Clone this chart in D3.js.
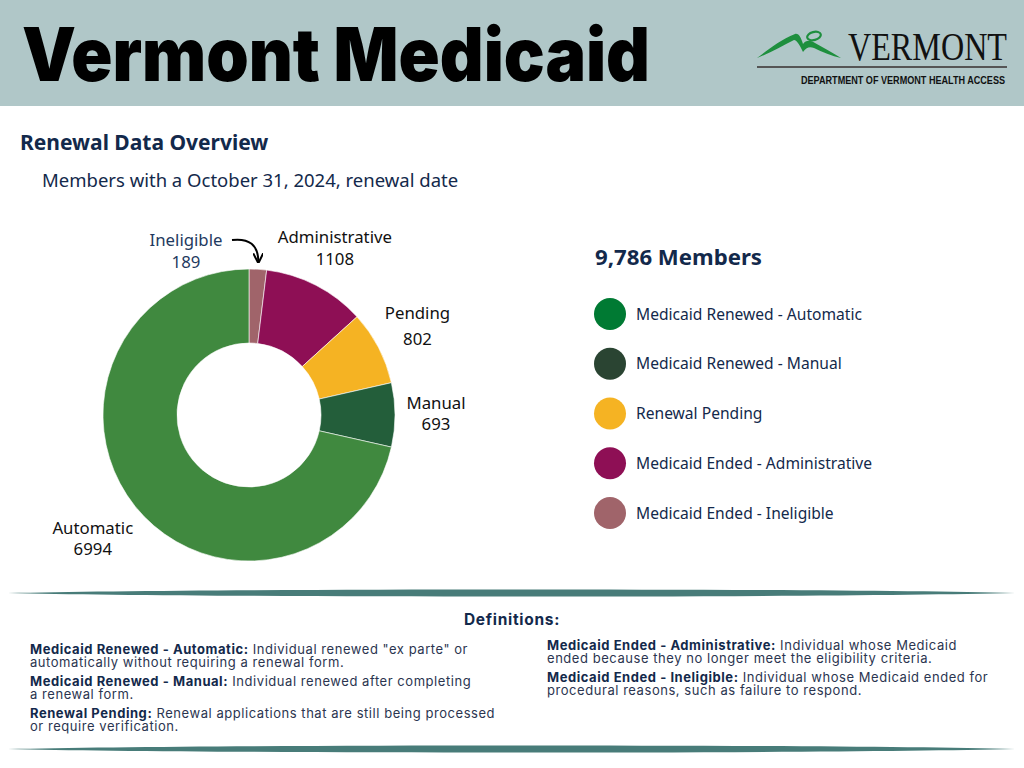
<!DOCTYPE html>
<html>
<head>
<meta charset="utf-8">
<script src="https://cdn.jsdelivr.net/npm/d3@7"></script>
<style>
html,body{margin:0;padding:0;background:#fff;}
svg{display:block;}
</style>
</head>
<body>
<svg id="chart" width="1024" height="768"></svg>
<script>
// ---------- DATA ----------
const categories = ["Medicaid Renewed - Automatic","Medicaid Renewed - Manual","Renewal Pending","Medicaid Ended - Administrative","Medicaid Ended - Ineligible"];
const shortLabels = ["Automatic","Manual","Pending","Administrative","Ineligible"];
const values = [6994, 693, 802, 1108, 189];
const pieOrder = ["Ineligible","Administrative","Pending","Manual","Automatic"];
const donutColors = ["#40893f","#235e3a","#f5b323","#8e0f55","#a0646a"];
const legendColors = ["#007a33","#2a4432","#f5b323","#8e0f55","#a0646a"];
const totalLabel = "9,786 Members";
const titleText = "Vermont Medicaid";
const subtitle1 = "Renewal Data Overview";
const subtitle2 = "Members with a October 31, 2024, renewal date";
const defsLeft = [
  ["Medicaid Renewed - Automatic:", " Individual renewed \"ex parte\" or", "automatically without requiring a renewal form."],
  ["Medicaid Renewed - Manual:", " Individual renewed after completing", "a renewal form."],
  ["Renewal Pending:", " Renewal applications that are still being processed", "or require verification."]
];
const defsRight = [
  ["Medicaid Ended - Administrative:", " Individual whose Medicaid", "ended because they no longer meet the eligibility criteria."],
  ["Medicaid Ended - Ineligible:", " Individual whose Medicaid ended for", "procedural reasons, such as failure to respond."]
];

// ---------- DRAW ----------
const svg = d3.select("#chart");
const navy = "#13294b";

// header band
svg.append("rect").attr("x",0).attr("y",0).attr("width",1024).attr("height",106).attr("fill","#b0c7c8");
svg.append("text").text(titleText)
  .attr("x",22).attr("y",81)
  .attr("font-family","Inter, 'Open Sans', sans-serif").attr("font-weight",900)
  .attr("font-size",74).attr("fill","#000")
  .attr("textLength",628).attr("lengthAdjust","spacingAndGlyphs");

// logo
const logo = svg.append("g");
logo.append("path")
  .attr("d","M757,58 C768,50 780,40 795,34 C799,33 801,38 803,44 C806,40 810,40 815,43 C824,48 833,53 841,58 C832,56 822,52 814,48 C809,46 806,48 803,52 C800,46 797,40 794,40 C782,46 770,53 757,58 Z")
  .attr("fill","#1e8f3e");
logo.append("ellipse").attr("cx",814).attr("cy",36).attr("rx",7).attr("ry",4)
  .attr("fill","none").attr("stroke","#1e8f3e").attr("stroke-width",2.2).attr("transform","rotate(-15,814,36)");
logo.append("text").text("VERMONT").attr("x",848).attr("y",60)
  .attr("font-family","'Liberation Serif', 'DejaVu Serif', serif").attr("font-size",40)
  .attr("fill","#111").attr("textLength",159).attr("lengthAdjust","spacingAndGlyphs");
logo.append("rect").attr("x",757).attr("y",66).attr("width",250).attr("height",2).attr("fill","#555");
logo.append("text").text("DEPARTMENT OF VERMONT HEALTH ACCESS").attr("x",801).attr("y",84)
  .attr("font-family","'Liberation Sans Narrow', 'Liberation Sans', sans-serif").attr("font-weight",700)
  .attr("font-size",11).attr("fill","#111").attr("textLength",204).attr("lengthAdjust","spacingAndGlyphs");

// subtitles
svg.append("text").text(subtitle1).attr("x",20).attr("y",150)
  .attr("font-family","'Noto Sans', sans-serif").attr("font-weight",700).attr("font-size",21).attr("fill",navy);
svg.append("text").text(subtitle2).attr("x",42).attr("y",187)
  .attr("font-family","'Noto Sans', sans-serif").attr("font-size",18.5).attr("fill",navy);

// donut
const cx = 249, cy = 415, rOuter = 146, rInner = 72;
const color = d3.scaleOrdinal().domain(shortLabels).range(donutColors);
const valueOf = d3.scaleOrdinal().domain(shortLabels).range(values);
const pie = d3.pie().sort(null).value(d => valueOf(d));
const arcs = pie(pieOrder);
const arc = d3.arc().innerRadius(rInner).outerRadius(rOuter);
const g = svg.append("g").attr("transform",`translate(${cx},${cy})`);
g.selectAll("path.slice").data(arcs).join("path").attr("class","slice")
  .attr("d",arc).attr("fill",d => color(d.data))
  .attr("stroke","#fff").attr("stroke-width",0.6);

// labels
const labelRadius = {Automatic:200, Manual:187, Pending:190, Administrative:187, Ineligible:186};
const lineGap = {Automatic:21, Manual:21, Pending:26, Administrative:22, Ineligible:22};
arcs.forEach(d => {
  const name = d.data;
  let a = (d.startAngle + d.endAngle)/2;
  let r = labelRadius[name];
  let x = Math.sin(a)*r, y = -Math.cos(a)*r;
  let fill = "#111";
  if (name === "Ineligible") { x = -63; y = -163; fill = "#1f3a60"; }
  const t = g.append("text").attr("text-anchor","middle")
    .attr("font-family","'Noto Sans', sans-serif").attr("font-size",16.8).attr("fill",fill);
  t.append("tspan").attr("x",x).attr("y",y - lineGap[name]/2 + 5).text(name);
  t.append("tspan").attr("x",x).attr("y",y + lineGap[name]/2 + 5).text(valueOf(name));
});
// arrow for Ineligible
const defs = svg.append("defs");
defs.append("marker").attr("id","ah").attr("viewBox","0 0 10 10").attr("refX",8).attr("refY",5)
  .attr("markerWidth",5).attr("markerHeight",5).attr("orient","auto")
  .append("path").attr("d","M0,0 L10,5 L0,10").attr("fill","none").attr("stroke","#000").attr("stroke-width",2);
const inel = arcs.find(d => d.data === "Ineligible");
const tipA = (inel.startAngle+inel.endAngle)/2;
const tipX = cx + Math.sin(tipA)*(rOuter+8), tipY = cy - Math.cos(tipA)*(rOuter+8);
svg.append("path").attr("d",`M${cx-17},${cy-175} Q${cx+9},${cy-178} ${tipX},${tipY}`)
  .attr("fill","none").attr("stroke","#000").attr("stroke-width",2).attr("marker-end","url(#ah)");

// legend
svg.append("text").text(totalLabel).attr("x",595).attr("y",265)
  .attr("font-family","'Noto Sans', sans-serif").attr("font-weight",700).attr("font-size",22.2).attr("fill",navy);
const ly = d3.scalePoint().domain(categories).range([314,513]);
const lg = svg.append("g").selectAll("g").data(categories).join("g")
  .attr("transform",d => `translate(610,${ly(d)})`);
lg.append("circle").attr("r",16).attr("fill",(d,i) => legendColors[i]);
lg.append("text").text(d => d).attr("x",26).attr("y",5.5)
  .attr("font-family","'Noto Sans', sans-serif").attr("font-size",15.6).attr("fill",navy);

// dividers
function divider(y){
  svg.append("path")
    .attr("d",`M8,${y} C200,${y-4.7} 824,${y-4.7} 1015,${y} C824,${y+4.7} 200,${y+4.7} 8,${y} Z`)
    .attr("fill","#487c79");
}
divider(593);
divider(749);

// definitions
svg.append("text").text("Definitions:").attr("x",512).attr("y",625).attr("text-anchor","middle")
  .attr("font-family","Inter, sans-serif").attr("font-weight",700).attr("font-size",15.5)
  .attr("letter-spacing",0.7).attr("fill",navy);
function defBlock(list, x, y0, step){
  list.forEach((d,i) => {
    const y = y0 + i*step;
    const t = svg.append("text").attr("x",x).attr("y",y)
      .attr("font-family","Inter, sans-serif").attr("font-size",13).attr("letter-spacing",0.55).attr("fill",navy);
    t.append("tspan").attr("font-weight",700).text(d[0]);
    t.append("tspan").attr("fill","#2b3550").text(d[1]);
    svg.append("text").attr("x",x).attr("y",y+12.5).text(d[2])
      .attr("font-family","Inter, sans-serif").attr("font-size",13).attr("letter-spacing",0.55).attr("fill","#2b3550");
  });
}
defBlock(defsLeft, 30, 654, 32);
defBlock(defsRight, 547, 650, 32);
</script>
</body>
</html>
